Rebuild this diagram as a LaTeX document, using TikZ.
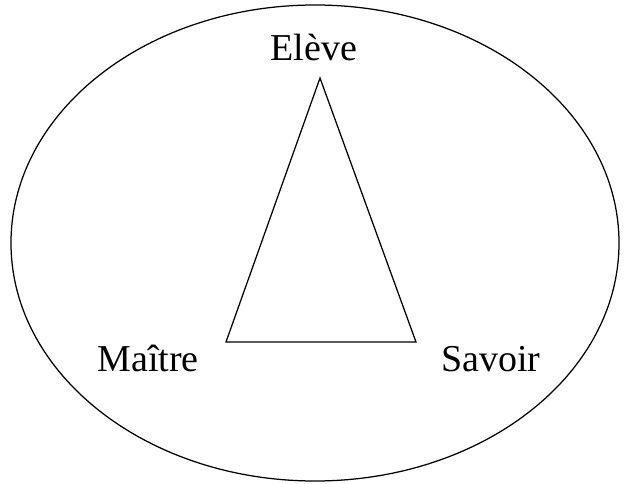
\documentclass[tikz,border=0pt]{standalone}
\usepackage{fontspec}
\setmainfont{Liberation Serif}
\usepackage{tikz}
\usetikzlibrary{positioning,shapes.geometric}

\begin{document}
\begin{tikzpicture}[x=1pt,y=-1pt,
  pole/.style={font=\fontsize{38}{40}\selectfont,anchor=base,inner sep=0pt},
  trait/.style={line width=1.25pt,color=black}]
\useasboundingbox (0,0) rectangle (624,484);
\node[draw,ellipse,trait,minimum width=608pt,minimum height=476pt,inner sep=0pt] (milieu) at (315,243) {};
\coordinate (e) at (320,78);
\coordinate (m) at (226,342);
\coordinate (s) at (416,342);
\node[pole] (eleve) at (314,61) {Elève};
\node[pole] (maitre) at (148,371) {Maître};
\node[pole] (savoir) at (491,371) {Savoir};
\draw[trait,line join=miter] (e) -- (m) -- (s) -- cycle;
\end{tikzpicture}
\end{document}
